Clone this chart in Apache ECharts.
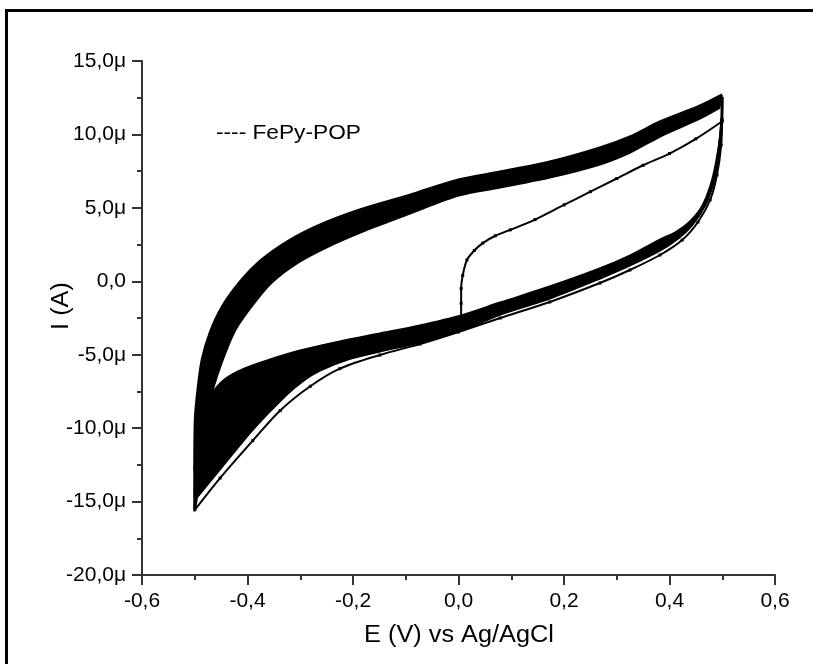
<!DOCTYPE html>
<html><head><meta charset="utf-8">
<script src="https://cdn.jsdelivr.net/npm/echarts@6/dist/echarts.min.js"></script>
<style>html,body{margin:0;padding:0;background:#fff}#c{width:813px;height:664px}</style>
</head><body><div id="c"></div>
<script>
// Values in V and µA
const xTicks = [-0.6,-0.4,-0.2,0.0,0.2,0.4,0.6];
const yTicks = [-20,-15,-10,-5,0,5,10,15];

// first anodic sweep starting at open circuit (0 V)
const initE = [0.005,0.005,0.005,0.008,0.016,0.03,0.046,0.07,0.098,0.145,0.2,0.25,0.3,0.35,0.4,0.45,0.5];
const initI = [-2.5,-1.5,-0.5,0.4,1.45,2.1,2.6,3.1,3.5,4.2,5.2,6.1,7.0,7.9,8.7,9.7,10.9];

// first cathodic sweep (thin trace)
const rev1E = [0.4995,0.498,0.49,0.477,0.454,0.424,0.382,0.325,0.268,0.173,0.079,0.0,-0.073,-0.149,-0.225,-0.281,-0.338,-0.39,-0.452,-0.5];
const rev1I = [10.98,9.28,7.24,5.54,4.04,2.81,1.79,0.77,-0.12,-1.41,-2.50,-3.45,-4.27,-5.02,-5.95,-7.15,-8.80,-10.85,-13.4,-15.57];

// repeated cycles, anodic branch: outer and inner edge of the band
const upOutE = [-0.5,-0.5,-0.499,-0.494,-0.486,-0.471,-0.448,-0.414,-0.373,-0.319,-0.263,-0.187,-0.092,0.0,0.079,0.173,0.268,0.325,0.382,0.458,0.5];
const upOutI = [-15.5,-12.85,-9.44,-7.40,-5.36,-3.52,-1.75,-0.05,1.45,2.81,3.83,4.86,5.87,6.90,7.44,8.12,9.08,9.83,10.85,11.94,12.69];
const upInE = [-0.5,-0.49,-0.482,-0.467,-0.448,-0.424,-0.391,-0.354,-0.304,-0.247,-0.177,-0.092,0.0,0.079,0.173,0.268,0.325,0.382,0.458,0.496];
const upInI = [-15.5,-12.85,-9.44,-7.40,-5.36,-3.32,-1.61,-0.05,1.31,2.40,3.49,4.65,5.87,6.42,7.10,7.99,8.80,9.89,11.12,11.87];

// repeated cycles, cathodic branch: upper and lower edge of the band
const loTopE = [0.5,0.498,0.49,0.479,0.462,0.439,0.411,0.382,0.325,0.268,0.173,0.079,0.005,-0.073,-0.149,-0.225,-0.300,-0.357,-0.405,-0.443,-0.467,-0.484,-0.496,-0.5];
const loTopI = [12.55,10.30,8.26,6.56,5.06,4.04,3.29,2.81,1.72,0.84,-0.39,-1.48,-2.36,-3.04,-3.59,-4.13,-4.75,-5.36,-5.97,-6.72,-7.74,-9.44,-11.49,-12.85];
const loBotE = [0.4995,0.494,0.484,0.467,0.442,0.416,0.382,0.325,0.268,0.173,0.079,0.005,-0.073,-0.149,-0.206,-0.263,-0.295,-0.325,-0.39,-0.452,-0.5];
const loBotI = [11.12,8.94,6.90,5.20,3.83,2.95,2.13,1.11,0.22,-1.14,-2.23,-3.32,-4.13,-4.75,-5.25,-6.05,-6.75,-7.65,-10.05,-12.75,-14.85];

const legendText = '---- FePy-POP';
const xTitle = 'E (V) vs Ag/AgCl';
const yTitle = 'I (A)';

const zip = (a,b) => a.map((v,i)=>[v,b[i]]);
const FONT = '"Liberation Sans", Arial, sans-serif';

function fmtY(v){
  if (Math.abs(v) < 1e-9) return '0,0';
  return v.toFixed(1).replace('.', ',') + 'μ';
}
function fmtX(v){
  if (Math.abs(v) < 1e-9) return '0,0';
  return v.toFixed(1).replace('.', ',');
}

const thin = (name, d) => ({
  name, type:'line', data:d, smooth:0.3, showSymbol:true, symbol:'rect', symbolSize:3,
  itemStyle:{color:'#000'}, lineStyle:{color:'#000', width:2}, animation:false, z:3
});
const edge = (name, d) => ({
  name, type:'line', data:d, smooth:0.3, showSymbol:false,
  lineStyle:{color:'#000', width:3}, animation:false, z:2
});
// filled band between two traced edges (closed outline: edge A, then edge B reversed)
const band = (name, aE, aI, bE, bI) => ({
  name, type:'custom', data:[[0,0]], encode:{x:0, y:1}, silent:true, animation:false, z:1,
  renderItem:(params, api) => {
    const pts = [];
    for (let i = 0; i < aE.length; i++) pts.push(api.coord([aE[i], aI[i]]));
    for (let i = bE.length - 1; i >= 0; i--) pts.push(api.coord([bE[i], bI[i]]));
    return {type:'polygon', shape:{points:pts, smooth:0.2}, style:{fill:'#000'}};
  }
});

const chart = echarts.init(document.getElementById('c'), null, {renderer:'canvas'});
chart.setOption({
  backgroundColor:'#fff',
  animation:false,
  grid:{left:142, right:38, top:61, bottom:89, containLabel:false},
  xAxis:{
    type:'value', min:-0.6, max:0.6, interval:0.2,
    axisLine:{show:true, onZero:false, lineStyle:{color:'#333', width:2}},
    axisTick:{show:true, length:10, lineStyle:{color:'#333', width:2}},
    minorTick:{show:true, splitNumber:2, length:5, lineStyle:{color:'#333', width:2}},
    splitLine:{show:false},
    axisLabel:{color:'#000', fontSize:21, fontFamily:FONT, margin:16, formatter:fmtX}
  },
  yAxis:{
    type:'value', min:-20, max:15, interval:5,
    axisLine:{show:true, onZero:false, lineStyle:{color:'#333', width:2}},
    axisTick:{show:true, length:10, lineStyle:{color:'#333', width:2}},
    minorTick:{show:true, splitNumber:2, length:5, lineStyle:{color:'#333', width:2}},
    splitLine:{show:false},
    axisLabel:{color:'#000', fontSize:21, fontFamily:FONT, margin:16, formatter:fmtY}
  },
  graphic:[
    {type:'rect', shape:{x:5, y:9, width:820, height:3}, style:{fill:'#000'}},
    {type:'rect', shape:{x:5, y:9, width:3, height:660}, style:{fill:'#000'}},
    {type:'text', x:216, y:133, scaleX:1.08, style:{text:legendText, fill:'#000', font:'21px '+FONT, textVerticalAlign:'middle'}},
    {type:'text', x:459, y:636, scaleX:1.1, style:{text:xTitle, fill:'#000', font:'23px '+FONT, textAlign:'center', textVerticalAlign:'middle'}},
    {type:'text', x:62, y:306, rotation:Math.PI/2, scaleX:1.1, style:{text:yTitle, fill:'#000', font:'23px '+FONT, textAlign:'center', textVerticalAlign:'middle'}}
  ],
  series:[
    band('anodicBand', upOutE, upOutI, upInE, upInI),
    band('cathodicBand', loTopE, loTopI, loBotE, loBotI),
    edge('anodicOuter', zip(upOutE, upOutI)),
    edge('anodicInner', zip(upInE, upInI)),
    edge('cathodicTop', zip(loTopE, loTopI)),
    edge('cathodicBottom', zip(loBotE, loBotI)),
    thin('firstCathodic', zip(rev1E, rev1I)),
    thin('initialSweep', zip(initE, initI))
  ]
});
</script></body></html>
